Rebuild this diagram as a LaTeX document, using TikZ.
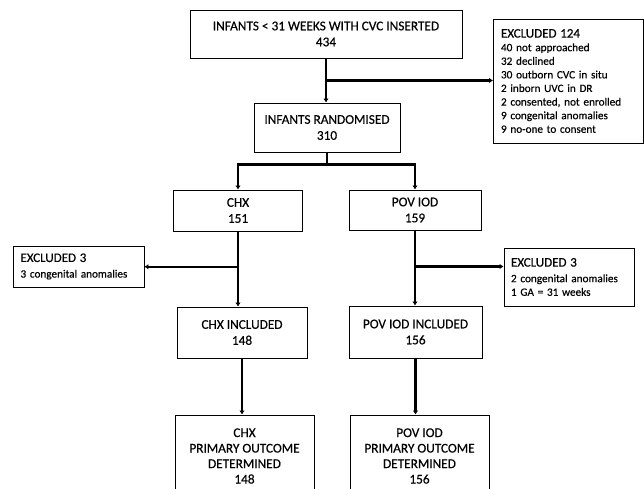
\documentclass[tikz,border=0pt]{standalone}
\usepackage{fontspec}
\setmainfont{Carlito}[FakeBold=0.4]
\usetikzlibrary{arrows.meta,calc}
\begin{document}
\begin{tikzpicture}[x=1pt,y=-1pt,
 box/.style={draw=black, line width=0.9pt, align=center, inner sep=0pt, font=\fontsize{13.3}{16}\selectfont},
 exbox/.style={draw=black, line width=0.9pt, align=left, inner ysep=0pt, font=\fontsize{11.2}{13.6}\selectfont},
 conn/.style={line width=2.3pt},
 arr/.style={conn, -{Latex[length=4pt,width=5.5pt]}}]
\clip (0,0) rectangle (644,489);
\fill[white] (0,0) rectangle (644,489);
% boxes
\node[box, minimum width=272, minimum height=48] (top) at (326,34) {INFANTS < 31 WEEKS WITH CVC INSERTED\\434};
\node[exbox, minimum width=149, minimum height=124, text width=135, inner xsep=7.5pt] (ex1) at (568.5,81)
 {{\fontsize{13}{13.6}\selectfont EXCLUDED 124}\\40 not approached\\32 declined\\30 outborn CVC in situ\\2 inborn UVC in DR\\2 consented, not enrolled\\9 congenital anomalies\\9 no-one to consent};
\node[box, minimum width=146, minimum height=49] (rand) at (327,127.5) {INFANTS RANDOMISED\\310};
\node[box, minimum width=129, minimum height=41] (chx) at (238,210.5) {CHX\\151};
\node[box, minimum width=132, minimum height=40] (pov) at (415,210) {POV IOD\\159};
\node[exbox, minimum width=129, minimum height=41, text width=116, inner xsep=7.5pt] (exl) at (78.5,266.5)
 {{\fontsize{13}{13.6}\selectfont EXCLUDED 3}\\[2pt]3 congenital anomalies};
\node[exbox, minimum width=128, minimum height=58, text width=116, inner xsep=7pt] (exr) at (569,277)
 {{\fontsize{13}{13.6}\selectfont EXCLUDED 3}\\[2pt]2 congenital anomalies\\1 GA = 31 weeks};
\node[box, minimum width=130, minimum height=51] (chxin) at (242,332.5) {CHX INCLUDED\\148};
\node[box, minimum width=133, minimum height=52] (povin) at (415.5,332) {POV IOD INCLUDED\\156};
\node[box, minimum width=139, minimum height=82, font=\fontsize{13.3}{15.5}\selectfont] (chxout) at (244.5,456) {CHX\\PRIMARY OUTCOME\\DETERMINED\\148};
\node[box, minimum width=139, minimum height=82, font=\fontsize{13.3}{15.5}\selectfont] (povout) at (419.5,456) {POV IOD\\PRIMARY OUTCOME\\DETERMINED\\156};
% connectors
\draw[arr] (top.south) -- (top.south |- rand.north);
\coordinate (j1) at ($(top.south)!0.5!(top.south |- rand.north)$);
\draw[arr] (j1) -- (j1 -| ex1.west);
\coordinate (j2) at ($(rand.south)+(0,12)$);
\draw[conn] (rand.south) -- (j2);
\draw[arr] (j2) -| (chx.north);
\draw[arr] (j2) -| (pov.north);
\draw[arr] (chx.south) -- (chx.south |- chxin.north);
\coordinate (j3) at ($(chx.south)!0.47!(chx.south |- chxin.north)$);
\draw[arr] (j3) -- (j3 -| exl.east);
\draw[arr] (pov.south) -- (pov.south |- povin.north);
\coordinate (j4) at ($(pov.south)!0.48!(pov.south |- povin.north)$);
\draw[arr] (j4) -- (j4 -| exr.west);
\draw[arr] (chxin.south) -- (chxin.south |- chxout.north);
\draw[arr] (povin.south) -- (povin.south |- povout.north);
\end{tikzpicture}
\end{document}
